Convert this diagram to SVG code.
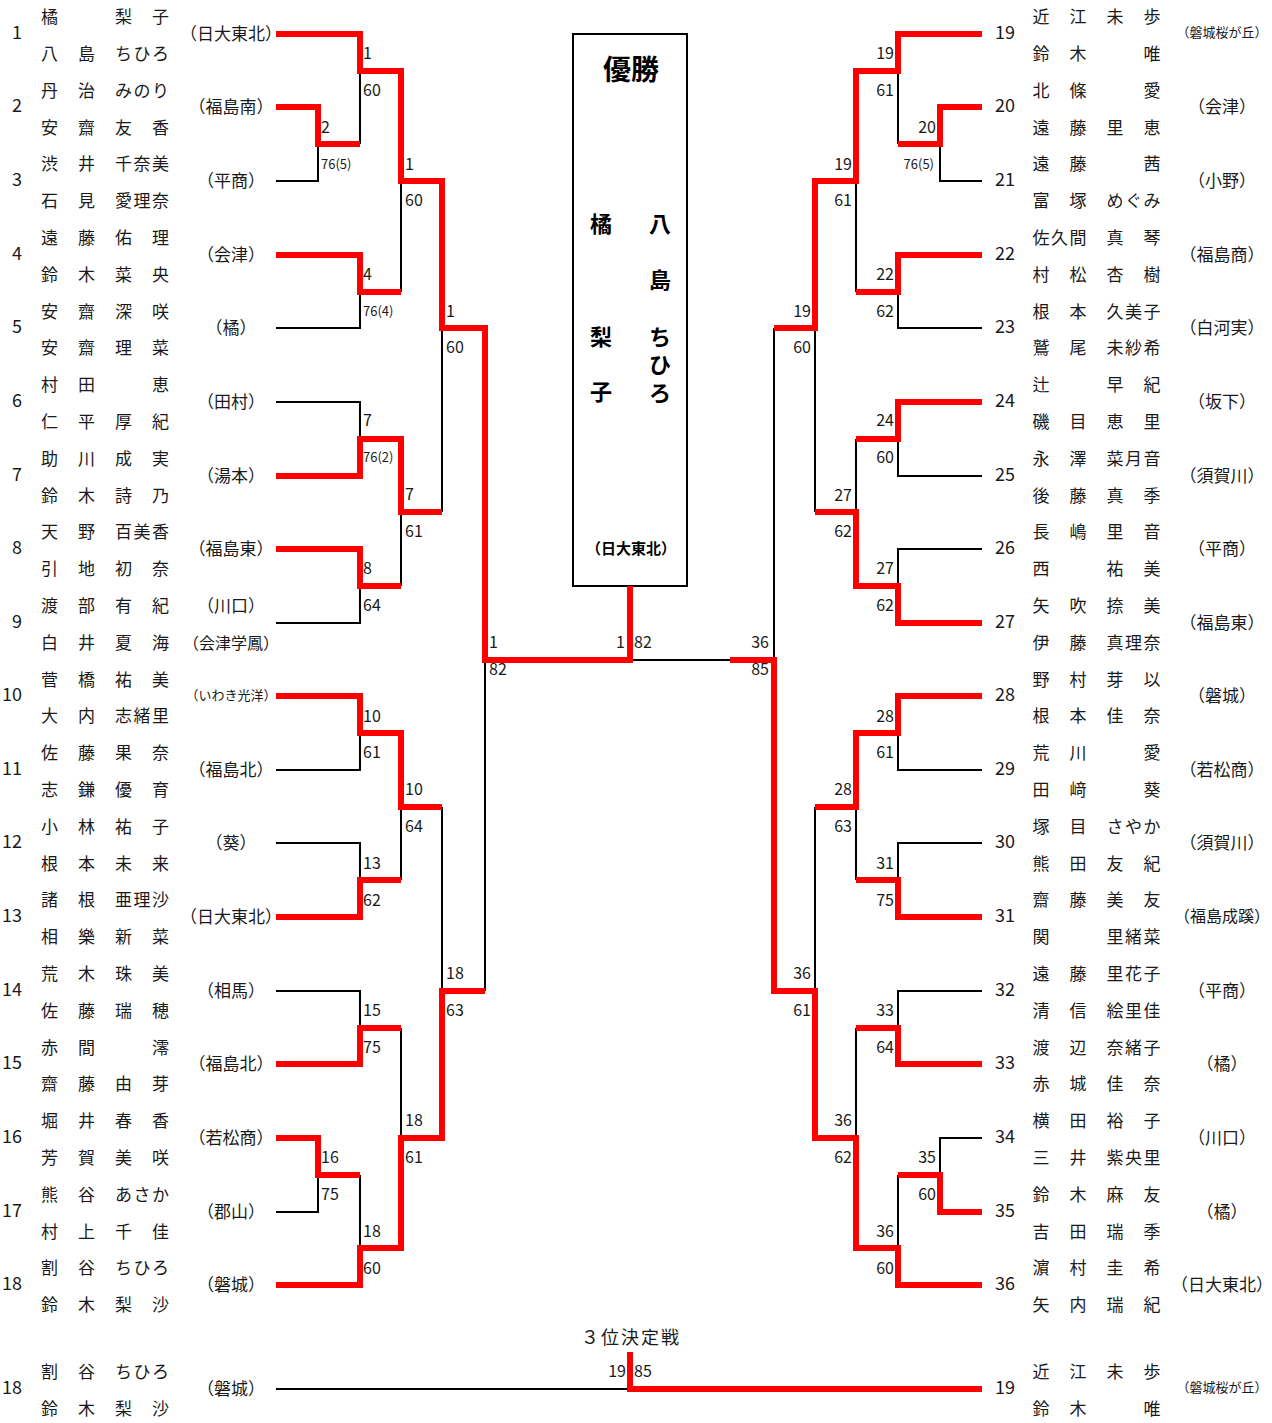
<svg xmlns="http://www.w3.org/2000/svg" width="1272" height="1423" viewBox="0 0 1272 1423">
<style>
text{font-family:'Noto Sans CJK JP','Noto Sans',sans-serif;fill:#1a1a1a}
.nm{font-size:17px;text-anchor:middle}
.no{font-size:18px}
.noL{font-size:18px;text-anchor:end}
.tm{font-size:17px;text-anchor:middle}
.tm16{font-size:16px;text-anchor:middle}
.ts{font-size:13px;text-anchor:middle}
.sc{font-size:16px}
.ss{font-size:13px}
.e{text-anchor:end}
.r{fill:none;stroke:#ff0000;stroke-width:6;stroke-linejoin:miter}
.k{fill:none;stroke:#000;stroke-width:2}
.b{font-weight:bold;text-anchor:middle;fill:#000}
</style>
<rect width="1272" height="1423" fill="#fff"/>

<!-- Left entries -->
<g id="entry-1"><text class="noL" x="22" y="39">1</text><text class="tm" x="231" y="39.5">（日大東北）</text><text class="nm" x="49.5 123.5 160.5" y="23.1">橘梨子</text><text class="nm" x="49.5 86.5 123.5 142 160.5" y="59.9">八島ちひろ</text></g>
<g id="entry-2"><text class="noL" x="22" y="112">2</text><text class="tm" x="231" y="112.5">（福島南）</text><text class="nm" x="49.5 86.5 123.5 142 160.5" y="96.7">丹治みのり</text><text class="nm" x="49.5 86.5 123.5 160.5" y="133.5">安齋友香</text></g>
<g id="entry-3"><text class="noL" x="22" y="186">3</text><text class="tm" x="231" y="186.5">（平商）</text><text class="nm" x="49.5 86.5 123.5 142 160.5" y="170.3">渋井千奈美</text><text class="nm" x="49.5 86.5 123.5 142 160.5" y="207.1">石見愛理奈</text></g>
<g id="entry-4"><text class="noL" x="22" y="260">4</text><text class="tm" x="231" y="260.5">（会津）</text><text class="nm" x="49.5 86.5 123.5 160.5" y="243.9">遠藤佑理</text><text class="nm" x="49.5 86.5 123.5 160.5" y="280.7">鈴木菜央</text></g>
<g id="entry-5"><text class="noL" x="22" y="333">5</text><text class="tm" x="231" y="333.5">（橘）</text><text class="nm" x="49.5 86.5 123.5 160.5" y="317.5">安齋深咲</text><text class="nm" x="49.5 86.5 123.5 160.5" y="354.3">安齋理菜</text></g>
<g id="entry-6"><text class="noL" x="22" y="407">6</text><text class="tm" x="231" y="407.5">（田村）</text><text class="nm" x="49.5 86.5 160.5" y="391.1">村田恵</text><text class="nm" x="49.5 86.5 123.5 160.5" y="427.9">仁平厚紀</text></g>
<g id="entry-7"><text class="noL" x="22" y="481">7</text><text class="tm" x="231" y="481.5">（湯本）</text><text class="nm" x="49.5 86.5 123.5 160.5" y="464.7">助川成実</text><text class="nm" x="49.5 86.5 123.5 160.5" y="501.5">鈴木詩乃</text></g>
<g id="entry-8"><text class="noL" x="22" y="554">8</text><text class="tm" x="231" y="554.5">（福島東）</text><text class="nm" x="49.5 86.5 123.5 142 160.5" y="538.3">天野百美香</text><text class="nm" x="49.5 86.5 123.5 160.5" y="575.1">引地初奈</text></g>
<g id="entry-9"><text class="noL" x="22" y="628">9</text><text class="tm" x="231" y="611.5">（川口）</text><text class="tm16" x="231" y="648.5">（会津学鳳）</text><text class="nm" x="49.5 86.5 123.5 160.5" y="611.9">渡部有紀</text><text class="nm" x="49.5 86.5 123.5 160.5" y="648.7">白井夏海</text></g>
<g id="entry-10"><text class="noL" x="22" y="701">10</text><text class="ts" x="231" y="700">（いわき光洋）</text><text class="nm" x="49.5 86.5 123.5 160.5" y="685.5">菅橋祐美</text><text class="nm" x="49.5 86.5 123.5 142 160.5" y="722.3">大内志緒里</text></g>
<g id="entry-11"><text class="noL" x="22" y="775">11</text><text class="tm" x="231" y="775.5">（福島北）</text><text class="nm" x="49.5 86.5 123.5 160.5" y="759.1">佐藤果奈</text><text class="nm" x="49.5 86.5 123.5 160.5" y="795.9">志鎌優育</text></g>
<g id="entry-12"><text class="noL" x="22" y="848">12</text><text class="tm" x="231" y="848.5">（葵）</text><text class="nm" x="49.5 86.5 123.5 160.5" y="832.7">小林祐子</text><text class="nm" x="49.5 86.5 123.5 160.5" y="869.5">根本未来</text></g>
<g id="entry-13"><text class="noL" x="22" y="922">13</text><text class="tm" x="231" y="922.5">（日大東北）</text><text class="nm" x="49.5 86.5 123.5 142 160.5" y="906.3">諸根亜理沙</text><text class="nm" x="49.5 86.5 123.5 160.5" y="943.1">相樂新菜</text></g>
<g id="entry-14"><text class="noL" x="22" y="996">14</text><text class="tm" x="231" y="996.5">（相馬）</text><text class="nm" x="49.5 86.5 123.5 160.5" y="979.9">荒木珠美</text><text class="nm" x="49.5 86.5 123.5 160.5" y="1016.7">佐藤瑞穂</text></g>
<g id="entry-15"><text class="noL" x="22" y="1069">15</text><text class="tm" x="231" y="1069.5">（福島北）</text><text class="nm" x="49.5 86.5 160.5" y="1053.5">赤間澪</text><text class="nm" x="49.5 86.5 123.5 160.5" y="1090.3">齋藤由芽</text></g>
<g id="entry-16"><text class="noL" x="22" y="1143">16</text><text class="tm" x="231" y="1143.5">（若松商）</text><text class="nm" x="49.5 86.5 123.5 160.5" y="1127.1">堀井春香</text><text class="nm" x="49.5 86.5 123.5 160.5" y="1163.9">芳賀美咲</text></g>
<g id="entry-17"><text class="noL" x="22" y="1217">17</text><text class="tm" x="231" y="1217.5">（郡山）</text><text class="nm" x="49.5 86.5 123.5 142 160.5" y="1200.7">熊谷あさか</text><text class="nm" x="49.5 86.5 123.5 160.5" y="1237.5">村上千佳</text></g>
<g id="entry-18"><text class="noL" x="22" y="1290">18</text><text class="tm" x="231" y="1290.5">（磐城）</text><text class="nm" x="49.5 86.5 123.5 142 160.5" y="1274.3">割谷ちひろ</text><text class="nm" x="49.5 86.5 123.5 160.5" y="1311.1">鈴木梨沙</text></g>
<g id="third-left"><text class="noL" x="22" y="1394">18</text><text class="tm" x="231" y="1394.5">（磐城）</text><text class="nm" x="49.5 86.5 123.5 142 160.5" y="1378">割谷ちひろ</text><text class="nm" x="49.5 86.5 123.5 160.5" y="1414.5">鈴木梨沙</text></g>

<!-- Right entries -->
<g id="entry-19"><text class="no" x="995" y="39">19</text><text class="ts" x="1222" y="37">（磐城桜が丘）</text><text class="nm" x="1041 1078 1115 1152" y="23.1">近江未歩</text><text class="nm" x="1041 1078 1152" y="59.9">鈴木唯</text></g>
<g id="entry-20"><text class="no" x="995" y="112">20</text><text class="tm" x="1222" y="112.5">（会津）</text><text class="nm" x="1041 1078 1152" y="96.7">北條愛</text><text class="nm" x="1041 1078 1115 1152" y="133.5">遠藤里恵</text></g>
<g id="entry-21"><text class="no" x="995" y="186">21</text><text class="tm" x="1222" y="186.5">（小野）</text><text class="nm" x="1041 1078 1152" y="170.3">遠藤茜</text><text class="nm" x="1041 1078 1115 1133.5 1152" y="207.1">富塚めぐみ</text></g>
<g id="entry-22"><text class="no" x="995" y="260">22</text><text class="tm" x="1222" y="260.5">（福島商）</text><text class="nm" x="1041 1059.5 1078 1115 1152" y="243.9">佐久間真琴</text><text class="nm" x="1041 1078 1115 1152" y="280.7">村松杏樹</text></g>
<g id="entry-23"><text class="no" x="995" y="333">23</text><text class="tm" x="1222" y="333.5">（白河実）</text><text class="nm" x="1041 1078 1115 1133.5 1152" y="317.5">根本久美子</text><text class="nm" x="1041 1078 1115 1133.5 1152" y="354.3">鷲尾未紗希</text></g>
<g id="entry-24"><text class="no" x="995" y="407">24</text><text class="tm" x="1222" y="407.5">（坂下）</text><text class="nm" x="1041 1115 1152" y="391.1">辻早紀</text><text class="nm" x="1041 1078 1115 1152" y="427.9">磯目恵里</text></g>
<g id="entry-25"><text class="no" x="995" y="481">25</text><text class="tm" x="1222" y="481.5">（須賀川）</text><text class="nm" x="1041 1078 1115 1133.5 1152" y="464.7">永澤菜月音</text><text class="nm" x="1041 1078 1115 1152" y="501.5">後藤真季</text></g>
<g id="entry-26"><text class="no" x="995" y="554">26</text><text class="tm" x="1222" y="554.5">（平商）</text><text class="nm" x="1041 1078 1115 1152" y="538.3">長嶋里音</text><text class="nm" x="1041 1115 1152" y="575.1">西祐美</text></g>
<g id="entry-27"><text class="no" x="995" y="628">27</text><text class="tm" x="1222" y="628.5">（福島東）</text><text class="nm" x="1041 1078 1115 1152" y="611.9">矢吹捺美</text><text class="nm" x="1041 1078 1115 1133.5 1152" y="648.7">伊藤真理奈</text></g>
<g id="entry-28"><text class="no" x="995" y="701">28</text><text class="tm" x="1222" y="701.5">（磐城）</text><text class="nm" x="1041 1078 1115 1152" y="685.5">野村芽以</text><text class="nm" x="1041 1078 1115 1152" y="722.3">根本佳奈</text></g>
<g id="entry-29"><text class="no" x="995" y="775">29</text><text class="tm" x="1222" y="775.5">（若松商）</text><text class="nm" x="1041 1078 1152" y="759.1">荒川愛</text><text class="nm" x="1041 1078 1152" y="795.9">田﨑葵</text></g>
<g id="entry-30"><text class="no" x="995" y="848">30</text><text class="tm" x="1222" y="848.5">（須賀川）</text><text class="nm" x="1041 1078 1115 1133.5 1152" y="832.7">塚目さやか</text><text class="nm" x="1041 1078 1115 1152" y="869.5">熊田友紀</text></g>
<g id="entry-31"><text class="no" x="995" y="922">31</text><text class="tm16" x="1222" y="922">（福島成蹊）</text><text class="nm" x="1041 1078 1115 1152" y="906.3">齋藤美友</text><text class="nm" x="1041 1115 1133.5 1152" y="943.1">関里緒菜</text></g>
<g id="entry-32"><text class="no" x="995" y="996">32</text><text class="tm" x="1222" y="996.5">（平商）</text><text class="nm" x="1041 1078 1115 1133.5 1152" y="979.9">遠藤里花子</text><text class="nm" x="1041 1078 1115 1133.5 1152" y="1016.7">清信絵里佳</text></g>
<g id="entry-33"><text class="no" x="995" y="1069">33</text><text class="tm" x="1222" y="1069.5">（橘）</text><text class="nm" x="1041 1078 1115 1133.5 1152" y="1053.5">渡辺奈緒子</text><text class="nm" x="1041 1078 1115 1152" y="1090.3">赤城佳奈</text></g>
<g id="entry-34"><text class="no" x="995" y="1143">34</text><text class="tm" x="1222" y="1143.5">（川口）</text><text class="nm" x="1041 1078 1115 1152" y="1127.1">横田裕子</text><text class="nm" x="1041 1078 1115 1133.5 1152" y="1163.9">三井紫央里</text></g>
<g id="entry-35"><text class="no" x="995" y="1217">35</text><text class="tm" x="1222" y="1217.5">（橘）</text><text class="nm" x="1041 1078 1115 1152" y="1200.7">鈴木麻友</text><text class="nm" x="1041 1078 1115 1152" y="1237.5">吉田瑞季</text></g>
<g id="entry-36"><text class="no" x="995" y="1290">36</text><text class="tm" x="1222" y="1290.5">（日大東北）</text><text class="nm" x="1041 1078 1115 1152" y="1274.3">濵村圭希</text><text class="nm" x="1041 1078 1115 1152" y="1311.1">矢内瑞紀</text></g>
<g id="third-right"><text class="no" x="995" y="1394">19</text><text class="ts" x="1222" y="1392">（磐城桜が丘）</text><text class="nm" x="1041 1078 1115 1152" y="1378">近江未歩</text><text class="nm" x="1041 1078 1152" y="1414.5">鈴木唯</text></g>

<!-- Champion box -->
<g id="champion">
<rect x="573" y="34" width="114" height="552" fill="#fff" stroke="#000" stroke-width="2"/>
<text class="b" x="631" y="80" font-size="28">優勝</text>
<text class="b" x="601 601 601" y="232.4 345.4 400.4" font-size="22">橘梨子</text>
<text class="b" x="660 660 660 660 660" y="232.4 288.4 345.4 373.4 401.4" font-size="22">八島ちひろ</text>
<text class="b" x="631" y="553.7" font-size="15">（日大東北）</text>
</g>

<g id="third-title"><text x="631" y="1344" font-size="18" letter-spacing="2" text-anchor="middle">３位決定戦</text></g>

<g id="connectors">
<!-- black (losers) -->
<g class="k">
<polyline points="276,181 318,181 318,144"/>
<line x1="360" y1="71" x2="360" y2="144"/>
<polyline points="276,328 360,328 360,292"/>
<line x1="401" y1="181" x2="401" y2="292"/>
<polyline points="276,402 360,402 360,439"/>
<line x1="442" y1="328" x2="442" y2="512"/>
<line x1="401" y1="512" x2="401" y2="586"/>
<polyline points="276,623 360,623 360,586"/>
<polyline points="276,770 360,770 360,733"/>
<line x1="401" y1="807" x2="401" y2="880"/>
<polyline points="276,843 360,843 360,880"/>
<line x1="442" y1="807" x2="442" y2="991"/>
<polyline points="276,991 360,991 360,1028"/>
<line x1="401" y1="1028" x2="401" y2="1138"/>
<polyline points="276,1212 318,1212 318,1175"/>
<line x1="360" y1="1175" x2="360" y2="1248"/>
<line x1="485" y1="660" x2="485" y2="991"/>
<line x1="630" y1="660" x2="774" y2="660"/>
<line x1="276" y1="1389" x2="630" y2="1389"/>
<polyline points="982,181 940,181 940,144"/>
<line x1="898" y1="71" x2="898" y2="144"/>
<line x1="856" y1="181" x2="856" y2="292"/>
<polyline points="982,328 898,328 898,292"/>
<line x1="815" y1="328" x2="815" y2="512"/>
<polyline points="982,476 898,476 898,439"/>
<line x1="856" y1="439" x2="856" y2="512"/>
<polyline points="982,549 898,549 898,586"/>
<polyline points="982,770 898,770 898,733"/>
<line x1="856" y1="807" x2="856" y2="880"/>
<polyline points="982,843 898,843 898,880"/>
<line x1="815" y1="807" x2="815" y2="991"/>
<polyline points="982,991 898,991 898,1028"/>
<line x1="856" y1="1028" x2="856" y2="1138"/>
<polyline points="982,1138 940,1138 940,1175"/>
<line x1="898" y1="1175" x2="898" y2="1248"/>
<line x1="774" y1="328" x2="774" y2="660"/>
</g>
<!-- red (winners) -->
<g class="r">
<polyline points="276,34 360,34 360,71 401,71 401,181 442,181 442,328 485,328 485,660 630,660 630,586"/>
<polyline points="276,107 318,107 318,144 360,144"/>
<polyline points="276,255 360,255 360,292 401,292"/>
<polyline points="276,476 360,476 360,439 401,439 401,512 442,512"/>
<polyline points="276,549 360,549 360,586 401,586"/>
<polyline points="276,696 360,696 360,733 401,733 401,807 442,807"/>
<polyline points="276,917 360,917 360,880 401,880"/>
<polyline points="276,1064 360,1064 360,1028 401,1028"/>
<polyline points="276,1138 318,1138 318,1175 360,1175"/>
<polyline points="276,1285 360,1285 360,1248 401,1248 401,1138 442,1138 442,991 485,991"/>
<polyline points="982,34 898,34 898,71 856,71 856,181 815,181 815,328 774,328"/>
<polyline points="982,107 940,107 940,144 898,144"/>
<polyline points="982,255 898,255 898,292 856,292"/>
<polyline points="982,402 898,402 898,439 856,439"/>
<polyline points="982,623 898,623 898,586 856,586 856,512 815,512"/>
<polyline points="982,696 898,696 898,733 856,733 856,807 815,807"/>
<polyline points="982,917 898,917 898,880 856,880"/>
<polyline points="982,1064 898,1064 898,1028 856,1028"/>
<polyline points="982,1212 940,1212 940,1175 898,1175"/>
<polyline points="982,1285 898,1285 898,1248 856,1248 856,1138 815,1138 815,991 774,991 774,660 730,660"/>
<polyline points="630,1352 630,1389 982,1389"/>
</g>
</g>

<!-- score labels -->
<g id="scores">
<text class="sc" x="363" y="58.8">1</text><text class="sc" x="363" y="95.8">60</text>
<text class="sc" x="321" y="132.8">2</text><text class="ss" x="321" y="168.7">76(5)</text>
<text class="sc" x="363" y="279.8">4</text><text class="ss" x="363" y="315.7">76(4)</text>
<text class="sc" x="405" y="169.8">1</text><text class="sc" x="405" y="205.8">60</text>
<text class="sc" x="446" y="316.8">1</text><text class="sc" x="446" y="352.8">60</text>
<text class="sc" x="363" y="425.8">7</text><text class="ss" x="363" y="461.7">76(2)</text>
<text class="sc" x="405" y="499.8">7</text><text class="sc" x="405" y="536.8">61</text>
<text class="sc" x="363" y="573.8">8</text><text class="sc" x="363" y="610.8">64</text>
<text class="sc" x="489" y="647.8">1</text><text class="sc" x="489" y="674.8">82</text>
<text class="sc" x="363" y="721.8">10</text><text class="sc" x="363" y="757.8">61</text>
<text class="sc" x="405" y="794.8">10</text><text class="sc" x="405" y="831.8">64</text>
<text class="sc" x="363" y="868.8">13</text><text class="sc" x="363" y="905.8">62</text>
<text class="sc" x="446" y="978.8">18</text><text class="sc" x="446" y="1015.8">63</text>
<text class="sc" x="363" y="1015.8">15</text><text class="sc" x="363" y="1052.8">75</text>
<text class="sc" x="405" y="1125.8">18</text><text class="sc" x="405" y="1162.8">61</text>
<text class="sc" x="321" y="1162.8">16</text><text class="sc" x="321" y="1199.8">75</text>
<text class="sc" x="363" y="1236.8">18</text><text class="sc" x="363" y="1273.8">60</text>
<text class="sc e" x="625" y="647.8">1</text><text class="sc" x="634" y="647.8">82</text>
<text class="sc e" x="626" y="1376.8">19</text><text class="sc" x="634" y="1376.8">85</text>
<text class="sc e" x="894" y="58.8">19</text><text class="sc e" x="894" y="95.8">61</text>
<text class="sc e" x="936" y="132.8">20</text><text class="ss e" x="934" y="168.7">76(5)</text>
<text class="sc e" x="852" y="169.8">19</text><text class="sc e" x="852" y="205.8">61</text>
<text class="sc e" x="894" y="279.8">22</text><text class="sc e" x="894" y="316.8">62</text>
<text class="sc e" x="811" y="316.8">19</text><text class="sc e" x="811" y="352.8">60</text>
<text class="sc e" x="894" y="425.8">24</text><text class="sc e" x="894" y="462.8">60</text>
<text class="sc e" x="852" y="500.8">27</text><text class="sc e" x="852" y="536.8">62</text>
<text class="sc e" x="894" y="573.8">27</text><text class="sc e" x="894" y="610.8">62</text>
<text class="sc e" x="769" y="647.8">36</text><text class="sc e" x="769" y="674.8">85</text>
<text class="sc e" x="894" y="721.8">28</text><text class="sc e" x="894" y="757.8">61</text>
<text class="sc e" x="852" y="794.8">28</text><text class="sc e" x="852" y="831.8">63</text>
<text class="sc e" x="894" y="868.8">31</text><text class="sc e" x="894" y="905.8">75</text>
<text class="sc e" x="811" y="978.8">36</text><text class="sc e" x="811" y="1015.8">61</text>
<text class="sc e" x="894" y="1015.8">33</text><text class="sc e" x="894" y="1052.8">64</text>
<text class="sc e" x="852" y="1125.8">36</text><text class="sc e" x="852" y="1162.8">62</text>
<text class="sc e" x="936" y="1162.8">35</text><text class="sc e" x="936" y="1199.8">60</text>
<text class="sc e" x="894" y="1236.8">36</text><text class="sc e" x="894" y="1273.8">60</text>
</g>
</svg>
